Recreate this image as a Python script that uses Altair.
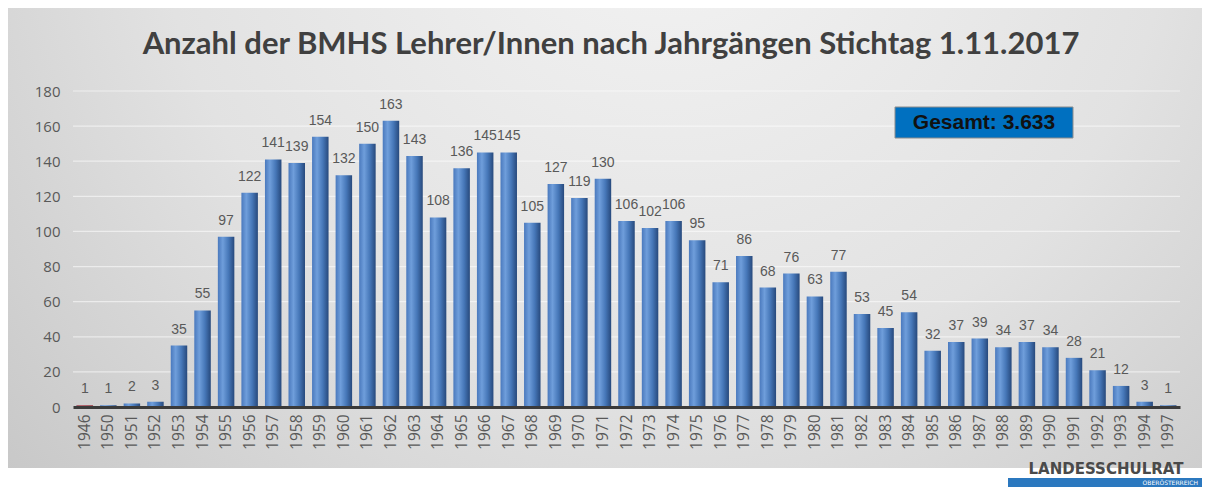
import altair as alt
import pandas as pd

years = ["1946", "1950", "1951", "1952", "1953", "1954", "1955", "1956", "1957", "1958",
         "1959", "1960", "1961", "1962", "1963", "1964", "1965", "1966", "1967", "1968",
         "1969", "1970", "1971", "1972", "1973", "1974", "1975", "1976", "1977", "1978",
         "1979", "1980", "1981", "1982", "1983", "1984", "1985", "1986", "1987", "1988",
         "1989", "1990", "1991", "1992", "1993", "1994", "1997"]
counts = [1, 1, 2, 3, 35, 55, 97, 122, 141, 139,
          154, 132, 150, 163, 143, 108, 136, 145, 145, 105,
          127, 119, 130, 106, 102, 106, 95, 71, 86, 68,
          76, 63, 77, 53, 45, 54, 32, 37, 39, 34,
          37, 34, 28, 21, 12, 3, 1]
highlight_year = "1946"
y_ticks = [0, 20, 40, 60, 80, 100, 120, 140, 160, 180]
title_text = "Anzahl der BMHS Lehrer/Innen nach Jahrgängen Stichtag 1.11.2017"
total_label = "Gesamt: 3.633"
logo_main = "LANDESSCHULRAT"
logo_sub = "OBERÖSTERREICH"

W, H = 1107, 316
PL, PT, PR, PB = 65, 83, 22, 80

df = pd.DataFrame({"year": years, "count": counts})
grid_df = pd.DataFrame({"count": y_ticks[1:]})
one = pd.DataFrame({"k": [0]})

xenc = alt.X("year:N", sort=years,
             scale=alt.Scale(paddingInner=0.3, paddingOuter=0.15),
             axis=alt.Axis(title=None, labelAngle=-90, labelFontSize=15.5,
                           labelColor="#595959", labelFont="Open Sans",
                           domainColor="#3a3a3a", domainWidth=3, ticks=False,
                           labelPadding=7, zindex=1, labelBaseline="middle"))
yaxis = alt.Axis(title=None, values=y_ticks, grid=False, domain=False,
                 ticks=False, labelFontSize=15, labelColor="#595959",
                 labelFont="Open Sans", labelPadding=13, zindex=1)
yenc = alt.Y("count:Q", scale=alt.Scale(domain=[0, 180], nice=False), axis=yaxis)

bg = alt.Chart(one).mark_rect(
    color=alt.Gradient(gradient="radial",
                       stops=[alt.GradientStop(color="#f4f4f4", offset=0),
                              alt.GradientStop(color="#e2e2e2", offset=0.5),
                              alt.GradientStop(color="#bfbfbf", offset=1)],
                       x1=0.55, y1=0.2, x2=0.55, y2=0.2, r1=0, r2=0.85)
).encode(x=alt.value(-PL), x2=alt.value(W + PR), y=alt.value(-PT), y2=alt.value(377))

grid = alt.Chart(grid_df).mark_rule(color="#ffffff", opacity=0.55, strokeWidth=1.2).encode(y=yenc)

bar_grad = alt.Gradient(gradient="linear", x1=0, x2=1, y1=0, y2=0,
                        stops=[alt.GradientStop(color="#4a79bd", offset=0),
                               alt.GradientStop(color="#6f9edb", offset=0.3),
                               alt.GradientStop(color="#4677b8", offset=0.65),
                               alt.GradientStop(color="#27497c", offset=1)])
bars = alt.Chart(df).mark_bar(color=bar_grad).encode(x=xenc, y=yenc)
red = alt.Chart(df).transform_filter(alt.datum.year == highlight_year).mark_bar(
    color="#c0504d").encode(x=xenc, y=yenc)
labels = alt.Chart(df).mark_text(dy=-9, baseline="bottom", fontSize=14, color="#595959",
                                 font="Liberation Sans").encode(
    x=xenc, y=yenc, text="count:Q")

title = alt.Chart(one).mark_text(text=title_text, font="Lato", fontWeight="bold",
                                 fontSize=31, color="#404040", align="center",
                                 baseline="middle").encode(x=alt.value(538), y=alt.value(-46))

box = alt.Chart(one).mark_rect(fill="#0070c0", stroke="#8c8c8c", strokeWidth=1).encode(
    x=alt.value(822), x2=alt.value(1000), y=alt.value(16), y2=alt.value(47))
box_text = alt.Chart(one).mark_text(text=total_label, font="Liberation Sans",
                                    fontWeight="bold", fontSize=21, color="#111111",
                                    align="center", baseline="middle").encode(
    x=alt.value(911), y=alt.value(32))

logo = alt.Chart(one).mark_text(text=logo_main, font="DejaVu Sans", fontWeight="bold",
                                fontSize=15, color="#4a4a4a", align="center",
                                baseline="alphabetic").encode(x=alt.value(1033), y=alt.value(383))
strip = alt.Chart(one).mark_rect(fill="#2b78bf").encode(
    x=alt.value(935), x2=alt.value(W + PR), y=alt.value(387), y2=alt.value(396))
logo_sub_t = alt.Chart(one).mark_text(text=logo_sub, font="DejaVu Sans", fontSize=6,
                                      color="#ffffff", align="right", baseline="middle").encode(
    x=alt.value(W + PR - 4), y=alt.value(391.5))

chart = alt.layer(bg, grid, bars, red, labels, title, box, box_text, logo, strip, logo_sub_t).properties(
    width=W, height=H,
    padding={"left": PL, "top": PT, "right": PR, "bottom": PB},
    autosize=alt.AutoSizeParams(type="none"),
    background="#ffffff",
).configure_view(stroke=None)

chart.save("out.html", embed_options={"renderer": "svg", "actions": False})
